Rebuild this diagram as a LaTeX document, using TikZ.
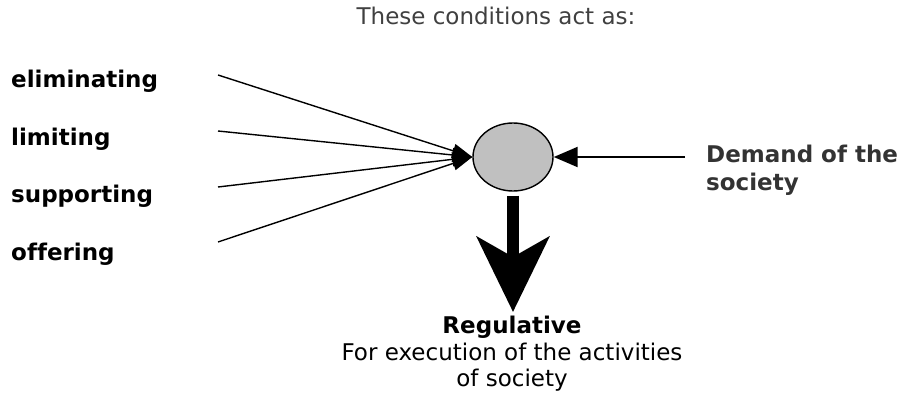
\documentclass[tikz,border=0pt]{standalone}
\usepackage{fontspec}
\setmainfont{DejaVu Sans}[Ligatures={NoCommon}]
\usetikzlibrary{arrows.meta,shapes.geometric}
\definecolor{titlegray}{HTML}{404040}
\definecolor{demgray}{HTML}{333333}
\definecolor{ellgray}{HTML}{C0C0C0}
\tikzset{
  txt/.style={font=\fontsize{23}{26}\selectfont, inner sep=0pt},
  lbl/.style={txt, font=\fontsize{23}{26}\selectfont\bfseries, anchor=base west},
  thin arrow/.style={line width=1.4pt, -{Triangle[length=20pt, width=14pt]}},
}
\begin{document}
\begin{tikzpicture}[x=1pt,y=-1pt]
\useasboundingbox (0,0) rectangle (903,396);
\node[txt, text=titlegray, anchor=base] (title) at (496,25) {These conditions act as:};
\node[lbl] (elim) at (11,88) {eliminating};
\node[lbl] (lim) at (11,145) {limiting};
\node[lbl] (supp) at (11,202) {supporting};
\node[lbl] (off) at (11,260) {offering};
\node[lbl, text=demgray] (dem1) at (706,162) {Demand of the};
\node[lbl, text=demgray] (dem2) at (706,190) {society};
\node[draw, line width=1.4pt, fill=ellgray, ellipse, minimum width=80pt, minimum height=68pt, inner sep=0pt] (e) at (513,157) {};
\coordinate (s1) at (218,75);
\coordinate (s2) at (218,131);
\coordinate (s3) at (218,187);
\coordinate (s4) at (218,242);
\coordinate (r0) at (685,157);
\coordinate (tip) at (513,312);
\foreach \s in {s1,s2,s3,s4} \draw[thin arrow] (\s) -- (e.west);
\draw[line width=2pt, -{Triangle[length=24pt, width=20pt]}] (r0) -- (e.east);
\draw[line width=12pt, -{Stealth[length=75pt, width=72pt, inset=20pt]}, shorten <=4pt] (e.south) -- (tip);
\node[txt, font=\fontsize{23}{26}\selectfont\bfseries, anchor=base] (reg) at (512,333) {Regulative};
\node[txt, anchor=base] (for) at (512,360) {For execution of the activities};
\node[txt, anchor=base] (ofs) at (512,386) {of society};
\end{tikzpicture}
\end{document}
